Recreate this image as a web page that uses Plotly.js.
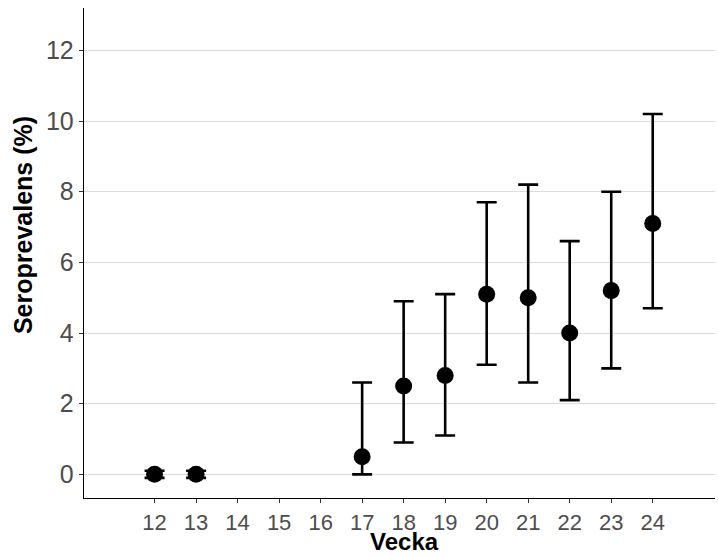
<!DOCTYPE html>
<html>
<head>
<meta charset="utf-8">
<script src="https://cdn.plot.ly/plotly-3.0.1.min.js"></script>
<style>html,body{margin:0;padding:0;background:#fff;}#chart{width:718px;height:558px;}</style>
</head>
<body>
<div id="chart"></div>
<script>
const weeks = [12, 13, 17, 18, 19, 20, 21, 22, 23, 24];
const prevalence = [0, 0, 0.5, 2.5, 2.8, 5.1, 5.0, 4.0, 5.2, 7.1];
const lower = [-0.1, -0.1, 0.0, 0.9, 1.1, 3.1, 2.6, 2.1, 3.0, 4.7];
const upper = [0.1, 0.1, 2.6, 4.9, 5.1, 7.7, 8.2, 6.6, 8.0, 10.2];
const xTicks = [12, 13, 14, 15, 16, 17, 18, 19, 20, 21, 22, 23, 24];
const yTicks = [0, 2, 4, 6, 8, 10, 12];
const xTitle = 'Vecka';
const yTitle = 'Seroprevalens (%)';

const trace = {
  type: 'scatter',
  mode: 'markers',
  x: weeks,
  y: prevalence,
  marker: {color: '#000000', size: 17},
  error_y: {
    type: 'data',
    symmetric: false,
    array: upper.map((u, i) => u - prevalence[i]),
    arrayminus: prevalence.map((p, i) => p - lower[i]),
    color: '#000000',
    thickness: 2.6,
    width: 10
  },
  hoverinfo: 'x+y'
};

const layout = {
  width: 718,
  height: 558,
  margin: {l: 84, r: 3, t: 8, b: 60},
  paper_bgcolor: '#ffffff',
  plot_bgcolor: '#ffffff',
  showlegend: false,
  font: {family: 'Liberation Sans, Arial, sans-serif'},
  xaxis: {
    range: [10.3, 25.5],
    tickvals: xTicks,
    ticktext: xTicks.map(String),
    showgrid: false,
    zeroline: false,
    showline: true,
    linecolor: '#000000',
    linewidth: 1.3,
    ticks: 'outside',
    ticklen: 4,
    tickcolor: '#333333',
    tickfont: {size: 22, color: '#4d4d4d'},
    automargin: false
  },
  yaxis: {
    range: [-0.67, 13.2],
    tickvals: yTicks,
    showgrid: true,
    gridcolor: '#dcdcdc',
    gridwidth: 1,
    zeroline: false,
    showline: true,
    linecolor: '#000000',
    linewidth: 1.3,
    ticks: 'outside',
    ticklen: 4,
    tickcolor: '#333333',
    tickfont: {size: 25, color: '#4d4d4d'},
    automargin: false
  },
  annotations: [
    {
      text: '<b>' + xTitle + '</b>',
      xref: 'paper', yref: 'paper',
      x: 0.5087, y: -0.1183,
      xanchor: 'center', yanchor: 'bottom',
      borderpad: 0,
      showarrow: false,
      font: {size: 24, color: '#000000'}
    },
    {
      text: '<b>' + yTitle + '</b>',
      xref: 'paper', yref: 'paper',
      x: -0.0967, y: 0.557,
      xanchor: 'center', yanchor: 'middle',
      textangle: -90,
      showarrow: false,
      font: {size: 25, color: '#000000'}
    }
  ]
};

Plotly.newPlot('chart', [trace], layout, {displayModeBar: false, staticPlot: true});
</script>
</body>
</html>
